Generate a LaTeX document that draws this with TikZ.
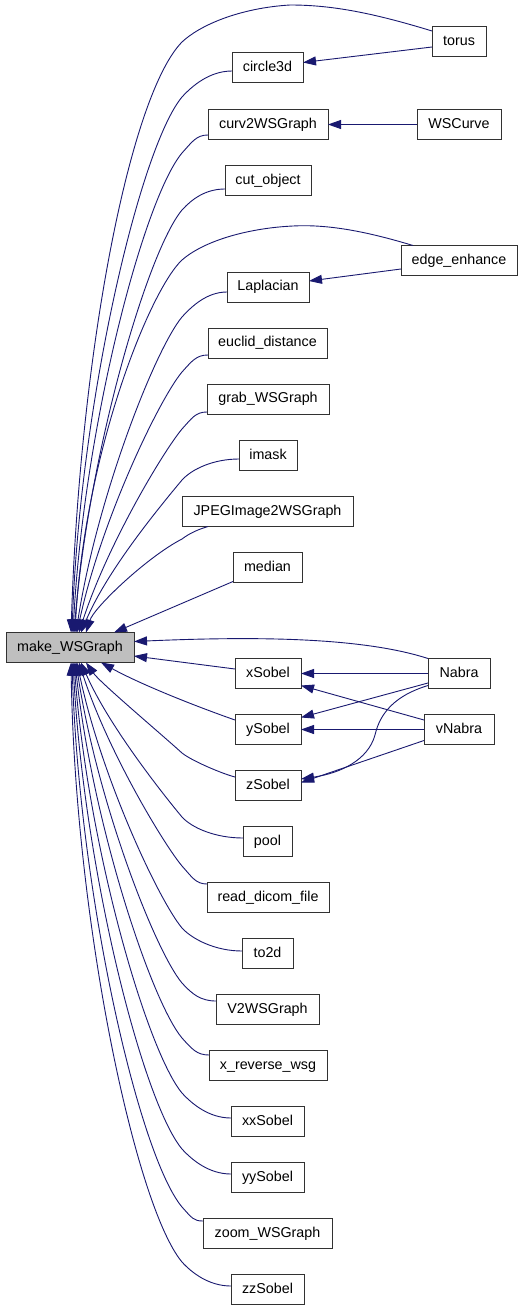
\documentclass[tikz,border=0pt]{standalone}
\usepackage{fontspec}
\setmainfont{Liberation Sans}
\usetikzlibrary{arrows.meta,calc}
\definecolor{edgec}{RGB}{25,25,112}
\definecolor{boxc}{RGB}{50,50,50}
\definecolor{mkfill}{RGB}{191,191,191}
\begin{document}
\begin{tikzpicture}[x=1pt,y=-1pt,
  fn/.style={draw=boxc,line width=1pt,fill=white,inner sep=0pt,outer sep=0pt,
    minimum height=30pt,text height=10.5pt,text depth=3pt,
    font=\fontsize{14.3}{16}\selectfont},
  ed/.style={draw=edgec,line width=0.9pt,-{Triangle[length=13pt,width=9pt]}}]
\fill[white] (0,0) rectangle (528,1311);
\useasboundingbox (0,0) rectangle (528,1311);
% nodes
\node[fn,fill=mkfill,minimum width=128pt] (mk) at (70,647.5) {make\_WSGraph};
\node[fn,minimum width=54pt] (torus) at (459,42) {torus};
\node[fn,minimum width=71pt] (circle) at (267.5,68) {circle3d};
\node[fn,minimum width=120pt] (curv) at (268,124.5) {curv2WSGraph};
\node[fn,minimum width=84pt] (wscurve) at (459,124.5) {WSCurve};
\node[fn,minimum width=86pt] (cut) at (268,180.5) {cut\_object};
\node[fn,minimum width=116pt] (edge) at (459,260.5) {edge\_enhance};
\node[fn,minimum width=82pt] (lap) at (268,287) {Laplacian};
\node[fn,minimum width=119pt] (euclid) at (267.5,343) {euclid\_distance};
\node[fn,minimum width=122pt] (grab) at (268,399) {grab\_WSGraph};
\node[fn,minimum width=58pt] (imask) at (268,455.5) {imask};
\node[fn,minimum width=171pt] (jpeg) at (267.5,511.5) {JPEGImage2WSGraph};
\node[fn,minimum width=69pt] (median) at (267.5,567.5) {median};
\node[fn,minimum width=66pt] (xs) at (268,673.5) {xSobel};
\node[fn,minimum width=62pt] (nabra) at (459,673.5) {Nabra};
\node[fn,minimum width=66pt] (ys) at (268,729.5) {ySobel};
\node[fn,minimum width=70pt] (vnabra) at (459,729.5) {vNabra};
\node[fn,minimum width=66pt] (zs) at (268,785.5) {zSobel};
\node[fn,minimum width=49pt] (pool) at (267.5,841.5) {pool};
\node[fn,minimum width=122pt] (dicom) at (268,897.5) {read\_dicom\_file};
\node[fn,minimum width=51pt] (todd) at (267.5,953.5) {to2d};
\node[fn,minimum width=103pt] (vtwo) at (267.5,1009.5) {V2WSGraph};
\node[fn,minimum width=118pt] (xrev) at (268,1065.5) {x\_reverse\_wsg};
\node[fn,minimum width=73pt] (xx) at (267.5,1121.5) {xxSobel};
\node[fn,minimum width=73pt] (yy) at (267.5,1177.5) {yySobel};
\node[fn,minimum width=129pt] (zoom) at (267.5,1233.5) {zoom\_WSGraph};
\node[fn,minimum width=73pt] (zz) at (267.5,1289.5) {zzSobel};
% upper edges to make_WSGraph
\draw[ed] ($(torus.west)+(0,-11)$) .. controls +(-62,-19) and +(40,0) .. (290,5)
  .. controls +(-50,3) and +(18,-17) .. (182,42)
  .. controls +(-52,53) and +(9,-282) .. ($(mk.north)+(1,0)$);
\draw[ed] ($(edge.north west)+(12,0)$) .. controls +(-43,-13) and +(37,-2) .. (293,226)
  .. controls +(-43,2) and +(23,-20) .. (182,260)
  .. controls +(-32,30) and +(10,-182) .. ($(mk.north)+(5,0)$);
\foreach \nm/\sd/\ca/\ky/\td/\LL/\mm/\cy in {
  circle/3/22.5/97/2/42/8/230,
  curv/10.5/11.7/153/3/38.5/11/206,
  cut/8.5/19.4/210/4/34.5/15/181,
  lap/5/20/317/6/27/21/135,
  euclid/12/11.7/372/7/23/24/112,
  grab/13/11.3/429/9/19/28/87,
  imask/3.5/25.6/480/11/22/26/62}
  \draw[ed] ($(\nm.west)+(0,\sd)$) .. controls +(-\ca,0) and +(10,-11) .. (182,\ky)
    .. controls +(-\LL,1.2*\LL) and +(\mm,-\cy) .. ($(mk.north)+(\td,0)$);
\draw[ed] ($(jpeg.south west)+(26,0)$) .. controls +(-10,3) and +(8,-6) .. (182,539)
  .. controls +(-35,18) and +(8,-25) .. ($(mk.north)+(16,0)$);
\draw[ed] ($(median.south west)+(0,-1)$) -- ($(mk.north)+(44,0)$);
% edges from the right column
\draw[ed] (nabra.north west) .. controls +(-68,-22) and +(115,-5) .. ($(mk.east)+(0,-6)$);
\draw[ed] ($(xs.west)+(0,-4.5)$) -- ($(mk.east)+(0,8.5)$);
\draw[ed] ($(ys.west)+(0,-9.5)$) .. controls +(-40,-14) and +(40,22) .. ($(mk.south)+(31,0)$);
\draw[ed] ($(zs.west)+(0,-8.5)$) .. controls +(-12,-3) and +(10,8) .. (182,753)
  .. controls +(-22,-20) and +(14,20) .. ($(mk.south)+(16,0)$);
% lower edges to make_WSGraph
\foreach \nm/\sd/\ca/\ky/\td/\LL/\mm/\cy in {
  pool/-3.5/27.5/817/11/17/28/64,
  dicom/-13.5/11.3/866/9/19/28/87,
  todd/-2.5/27/928/7/23.5/24/114,
  vtwo/-8.5/15.3/983/6/27.4/21/138,
  xrev/-10.5/12.2/1038/5/31/17.5/161,
  xx/-3.5/22/1093/4/35/14/185,
  yy/-3.5/22/1149/3/39/11/209,
  zoom/-12.5/9.5/1207/2/43/7.4/234,
  zz/-3.5/22/1262/1/47/4/258}
  \draw[ed] ($(\nm.west)+(0,\sd)$) .. controls +(-\ca,0) and +(10,11) .. (182,\ky)
    .. controls +(-\LL,-1.2*\LL) and +(\mm,\cy) .. ($(mk.south)+(\td,0)$);
% second-level edges
\draw[ed] ($(torus.west)+(0,5)$) -- ($(circle.east)+(0,-5.5)$);
\draw[ed] (wscurve.west) -- (curv.east);
\draw[ed] ($(edge.west)+(0,8.5)$) -- ($(lap.east)+(0,-6)$);
\draw[ed] (nabra.west) -- (xs.east);
\draw[ed] ($(vnabra.west)+(0,-9.5)$) -- ($(xs.east)+(0,12)$);
\draw[ed] ($(nabra.west)+(0,9.5)$) -- ($(ys.east)+(0,-12)$);
\draw[ed] (vnabra.west) -- (ys.east);
\draw[ed] ($(nabra.west)+(0,12)$) .. controls +(-33,10) and +(5,-22) .. (375,735)
  .. controls +(-7,25) and +(40,-6) .. ($(zs.east)+(0,-6.5)$);
\draw[ed] ($(vnabra.west)+(0,11)$) -- ($(zs.east)+(0,-3)$);
\end{tikzpicture}
\end{document}
